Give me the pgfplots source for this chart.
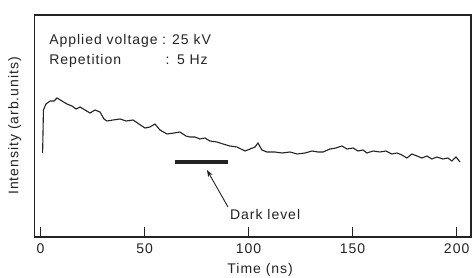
\documentclass[border=0pt]{standalone}
\usepackage{pgfplots}
\pgfplotsset{compat=1.18}
\usetikzlibrary{arrows.meta}
\usepackage{fontspec}
\setmainfont{Liberation Sans}[LetterSpace=7]
\definecolor{ink}{RGB}{35,35,35}
\begin{document}
\begin{tikzpicture}[font=\fontsize{14}{16}\selectfont]
\begin{axis}[
  scale only axis, width=436.5pt, height=222pt,
  xmin=-2.9, xmax=206.9, ymin=0, ymax=222,
  xtick={0,50,100,150,200}, ytick=\empty,
  xtick pos=bottom, tick align=inside, major tick length=10pt,
  tick style={ink, line width=1pt},
  axis line style={ink, line width=1.1pt},
  /pgf/number format/assume math mode=true,
  xticklabel style={yshift=-3pt, text=ink},
  xlabel={Time (ns)},
  ylabel={Intensity (arb.units)},
  xlabel style={at={(axis description cs:0.517,-0.149)}, anchor=center, text=ink},
  ylabel style={at={(axis description cs:-0.045,0.5)}, anchor=center, rotate=0, text=ink},
  clip=false,
]
\addplot[ink, line width=1.1pt] coordinates {
(1.0,84) (1.4,127) (2.6,133) (4.6,136) (6.5,136) (7.9,139) (10.3,136) (12.7,133)
(15.1,131) (17.1,128) (19.0,130) (21.4,127) (23.8,124) (26.2,127) (28.6,125)
(30.5,118) (31.9,116) (34.8,117) (38.2,118) (41.1,116) (44.5,117) (47.3,113)
(50.2,109) (52.6,110) (55.0,113) (57.4,107) (60.8,103) (64.2,104) (67.0,105)
(69.9,101) (71.8,100) (74.2,100) (76.6,98) (79.0,99) (81.4,96) (84.8,95)
(87.7,93) (91.0,91) (94.4,90) (98.3,86) (100.7,88) (103.1,90) (104.5,94)
(106.4,87) (108.8,85) (112.7,85) (116.0,84) (119.9,85) (123.3,83) (127.1,84)
(130.5,86) (133.3,85) (135.8,85) (139.1,88) (142.0,89) (144.9,91) (147.3,88)
(150.2,89) (152.6,86) (155.0,87) (156.9,84) (159.8,86) (163.1,85) (166.0,86)
(168.9,83) (171.3,84) (173.7,82) (176.1,79) (178.5,83) (180.9,81) (183.3,79)
(185.7,81) (188.1,78) (190.5,80) (193.4,78) (195.8,79) (197.7,76) (199.7,80)
(201.6,75)
};
% dark level bar
\addplot[ink, line width=4.5pt] coordinates {(64.6,75) (90.1,75)};
\draw[ink, line width=0.9pt, -{Stealth[length=7pt,width=5pt]}] (axis cs:90.1,30) -- (axis cs:80.0,67);
\node[anchor=base west, inner sep=0, text=ink] at (axis cs:91.0,17) {Dark level};
\node[anchor=base west, inner sep=0, text=ink] at (axis cs:4.1,192) {Applied voltage};
\node[anchor=base west, inner sep=0, text=ink] at (axis cs:58.4,192) {:};
\node[anchor=base west, inner sep=0, text=ink] at (axis cs:63.2,192) {25 kV};
\node[anchor=base west, inner sep=0, text=ink] at (axis cs:4.1,172) {Repetition};
\node[anchor=base west, inner sep=0, text=ink] at (axis cs:60.0,172) {:};
\node[anchor=base west, inner sep=0, text=ink] at (axis cs:65.5,172) {5 Hz};
\end{axis}
\pgfresetboundingbox
\useasboundingbox ([xshift=-34.5pt,yshift=-41pt]current axis.south west) rectangle ([xshift=3pt,yshift=15pt]current axis.north east);
\end{tikzpicture}
\end{document}
